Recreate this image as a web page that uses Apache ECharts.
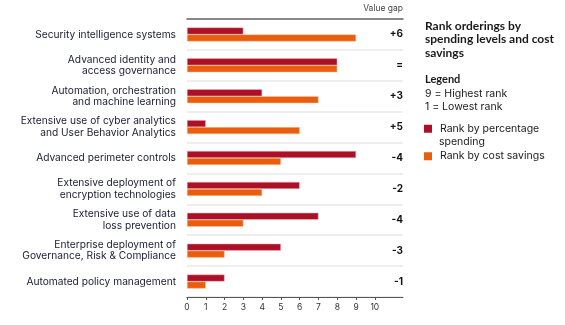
<!DOCTYPE html>
<html><head><meta charset="utf-8">
<script src="https://cdn.jsdelivr.net/npm/echarts@6/dist/echarts.min.js"></script>
<style>html,body{margin:0;padding:0;background:#fff}#c{width:565px;height:325px}</style>
</head><body><div id="c"></div>
<script>
var categories = [
  "Security intelligence systems",
  "Advanced identity and\naccess governance",
  "Automation, orchestration\nand machine learning",
  "Extensive use of cyber analytics\nand User Behavior Analytics",
  "Advanced perimeter controls",
  "Extensive deployment of\nencryption technologies",
  "Extensive use of data\nloss prevention",
  "Enterprise deployment of\nGovernance, Risk & Compliance",
  "Automated policy management"
];
var spendingRank = [3, 8, 4, 1, 9, 6, 7, 5, 2];
var costSavingsRank = [9, 8, 7, 6, 5, 4, 3, 2, 1];
var valueGap = ["+6", "=", "+3", "+5", "-4", "-2", "-4", "-3", "-1"];
var tickValues = [0, 1, 2, 3, 4, 5, 6, 7, 8, 9, 10];
var seriesNames = ["Rank by percentage spending", "Rank by cost savings"];

var FONT = "Inter, 'Open Sans', sans-serif";
var TFONT = "Lato, Inter, sans-serif";
var RED = "#AC1026", ORANGE = "#EA5D0D";
var chart = echarts.init(document.getElementById('c'), null, {renderer: 'canvas'});
chart.setOption({
  animation: false,
  textStyle: {fontFamily: FONT},
  grid: {left: 187, right: 162, top: 19, bottom: 28, containLabel: false},
  title: [
    {text: "Rank orderings by\nspending levels and cost\nsavings", left: 425, top: 19, padding: 0,
     textStyle: {fontSize: 12, fontWeight: 'bold', color: '#1a1a1a', lineHeight: 13.5, fontFamily: TFONT}},
    {text: "Legend", left: 425, top: 74, padding: 0,
     textStyle: {fontSize: 11, fontWeight: 'bold', color: '#1a1a1a', fontFamily: TFONT}},
    {text: "9 = Highest rank\n1 = Lowest rank", left: 425, top: 87, padding: 0,
     textStyle: {fontSize: 10.5, fontWeight: 'normal', color: '#1a1a1a', lineHeight: 13.5, fontFamily: FONT}},
    {text: "spending", left: 439, top: 135, padding: 0,
     textStyle: {fontSize: 10.5, fontWeight: 'normal', color: '#1a1a1a', lineHeight: 13.5, fontFamily: FONT}},
    {text: "Value gap", right: 162, top: 4, padding: 0,
     textStyle: {fontSize: 8.5, fontWeight: 'normal', color: '#444', fontFamily: FONT}}
  ],
  legend: {
    orient: 'vertical', left: 424, top: 122, padding: 0, itemWidth: 8, itemHeight: 8, itemGap: 14,
    icon: 'rect',
    itemStyle: {borderWidth: 0},
    formatter: function (n) { return n === seriesNames[0] ? "Rank by percentage" : n; },
    textStyle: {fontSize: 10.5, color: '#1a1a1a', lineHeight: 13.5, padding: [0, 0, 0, 3], fontFamily: FONT},
    data: seriesNames
  },
  xAxis: [{
    type: 'value', min: 0, max: 11.5, interval: 1,
    axisLine: {show: true, lineStyle: {color: '#555', width: 1}},
    axisTick: {show: true, length: 3, lineStyle: {color: '#555'}, customValues: tickValues},
    axisLabel: {fontSize: 8.5, color: '#333', margin: 6, customValues: tickValues},
    splitLine: {show: false}
  }, {
    type: 'value', position: 'top', min: 0, max: 11.5,
    axisLine: {show: true, lineStyle: {color: '#666', width: 1.5}},
    axisTick: {show: false}, axisLabel: {show: false}, splitLine: {show: false}
  }],
  yAxis: [{
    type: 'category', data: categories, inverse: true,
    axisLine: {show: false}, axisTick: {show: false},
    axisLabel: {fontSize: 10.2, color: '#1b1b33', margin: 11, align: 'right', lineHeight: 11.5},
    splitLine: {show: true, lineStyle: {color: '#e8e8e8', width: 1.5}}
  }, {
    type: 'category', data: valueGap, inverse: true, position: 'right',
    axisLine: {show: false}, axisTick: {show: false},
    axisLabel: {inside: true, margin: 0, fontSize: 10, fontWeight: 'bold', color: '#111', align: 'right'}
  }],
  series: [
    {name: seriesNames[0], type: 'bar', data: spendingRank, barWidth: 7, barGap: '0%',
     itemStyle: {color: RED, borderColor: '#f2b8bf', borderWidth: 0.5}},
    {name: seriesNames[1], type: 'bar', data: costSavingsRank, barWidth: 7, barGap: '0%',
     itemStyle: {color: ORANGE, borderColor: '#f7c6a8', borderWidth: 0.5}}
  ]
});
</script></body></html>
